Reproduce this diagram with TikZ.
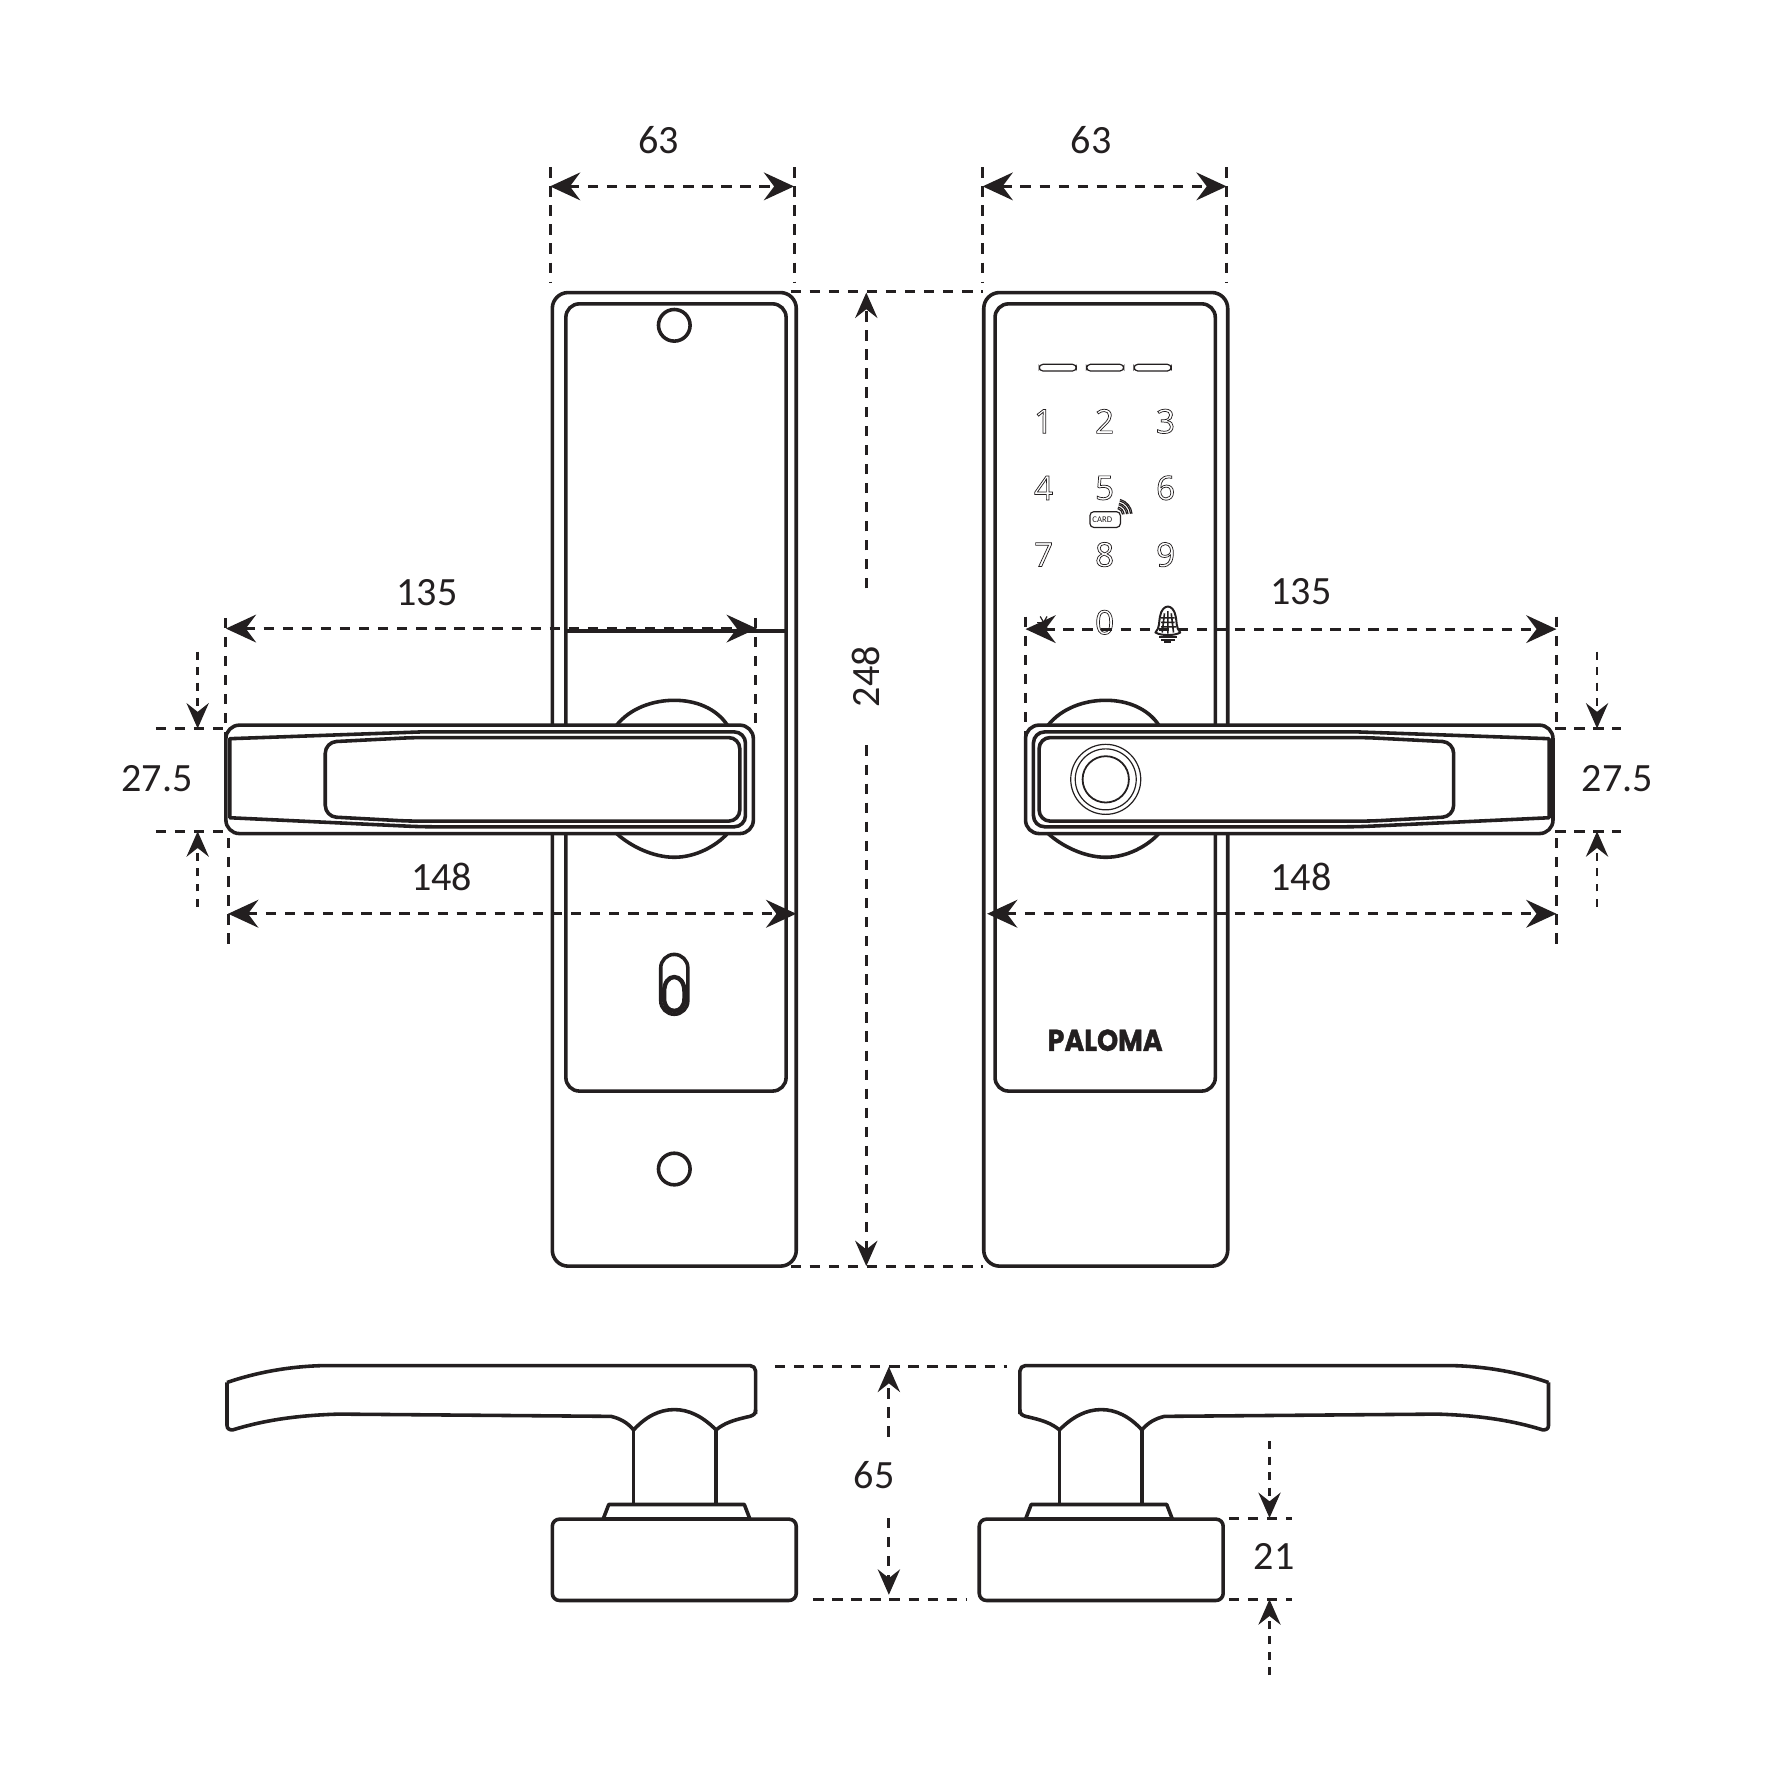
\documentclass[tikz,border=0pt]{standalone}
\usepackage{fontspec}
\setmainfont{Carlito}
\newfontfamily\keyfont{Open Sans}
\newfontfamily\logofont{Poppins}[FakeStretch=0.89,FakeBold=1.2]
\usetikzlibrary{arrows.meta}
\definecolor{ink}{HTML}{231F20}
\tikzset{
  body/.style={draw=ink,line width=0.9pt,line join=round},
  thinbody/.style={draw=ink,line width=0.3pt},
  dimline/.style={draw=ink,line width=0.75pt,dash pattern=on 2.6pt off 2.2pt},
  smalldim/.style={draw=ink,line width=0.6pt,dash pattern=on 2pt off 1.9pt},
  bigtip/.style={{Stealth[length=7.6pt,width=7pt,inset=2.6pt,fill=ink]}-{Stealth[length=7.6pt,width=7pt,inset=2.6pt,fill=ink]}},
  endtip/.style={-{Stealth[length=6.4pt,width=5.6pt,inset=2.2pt,fill=ink]}},
  dimtext/.style={text=ink,font=\fontsize{10.1}{12}\selectfont,inner sep=0pt},
  keytext/.style={text=ink,font=\keyfont\fontsize{8.4}{9}\selectfont,inner sep=0pt},
}
% stroked digits of the keypad
\newcommand{\keydigit}[1]{\special{pdf:code 1 Tr 0.18 w}#1\special{pdf:code 0 Tr}}
% lever seen from the front
\newcommand{\frontlever}{
  \draw[body,fill=white,rounded corners=3.4pt] (200,642) rectangle (667,738);
  \draw[body] (203.5,654) -- (373,648) [rounded corners=2.8pt] -- (660,648) -- (660,732) -- (373,732) [sharp corners] -- (203.5,724) -- cycle;
  \draw[body,rounded corners=2.8pt] (288,657) -- (366,653) -- (655,653) -- (655,727) -- (362,727) -- (288,723) -- cycle;
}
% lever seen from the side
\newcommand{\sidelever}{
  \draw[body,rounded corners=1.4pt] (201,1224) .. controls (230,1214) and (262,1209) .. (297,1209) -- (669,1209) -- (669,1252);
  \draw[body] (669,1248) .. controls (669,1252) and (667,1253) .. (664,1254) .. controls (650,1257) and (641,1260) .. (634,1266) .. controls (622,1254) and (610,1248) .. (597,1248) .. controls (584,1248) and (572,1254) .. (561,1266) .. controls (555,1259) and (549,1256) .. (541,1254) -- (300,1252) .. controls (265,1253) and (235,1257) .. (206,1266) .. controls (203,1266) and (201,1265) .. (201,1262) -- (201,1224);
  \draw[body] (561,1266) -- (561,1332) (634,1266) -- (634,1332);
  \draw[body] (534,1345) -- (539,1332) -- (659,1332) -- (664,1345);
  \draw[body,rounded corners=1.8pt] (489,1345) rectangle (705,1417);
  \draw[draw=ink,line width=1.15pt] (534,1345) -- (664,1345);
}
\begin{document}
\begin{tikzpicture}[x=0.01cm,y=-0.01cm]
\useasboundingbox (0,0) rectangle (1568,1568);

% plates
\draw[body,rounded corners=4pt] (489,259) rectangle (705,1121);
\draw[body,rounded corners=3.4pt] (501,269) rectangle (696,966);
\draw[body,line width=1pt] (501,559) -- (696,559);
\draw[body] (597,288) circle[radius=14];
\draw[body] (597,1035) circle[radius=14];
\draw[body,rounded corners=3.4pt] (585,845) rectangle (609,898);
\draw[body,line width=1.1pt] (588,878) .. controls (588,870) and (592,865) .. (597,865) .. controls (602,865) and (606,870) .. (606,878) -- (606,884) .. controls (606,891) and (602,895) .. (597,895) .. controls (592,895) and (588,891) .. (588,884) -- cycle;
\draw[body,rounded corners=4pt] (871,259) rectangle (1087,1121);
\draw[body,rounded corners=3.4pt] (881,269) rectangle (1076,966);

% hubs
\foreach \s in {0,382}{
  \begin{scope}[xshift=\s*0.01cm]
  \draw[body] (546,642) .. controls (558,627) and (578,620) .. (597,620) .. controls (616,620) and (634,627) .. (644,642);
  \draw[body] (546,738) .. controls (558,749) and (578,759) .. (597,759) .. controls (616,759) and (634,749) .. (644,738);
  \end{scope}
}

% keypad
\foreach \x in {920,962,1004}
  \draw[thinbody,rounded corners=1pt] (\x,322.5) rectangle (\x+33,328.5);
\node[keytext] (k1) at (924,373) {\keydigit{1}};
\node[keytext] (k2) at (978,373) {\keydigit{2}};
\node[keytext] (k3) at (1032,373) {\keydigit{3}};
\node[keytext] (k4) at (924,432) {\keydigit{4}};
\node[keytext] (k5) at (978,432) {\keydigit{5}};
\node[keytext] (k6) at (1032,432) {\keydigit{6}};
\node[keytext] (k7) at (924,491) {\keydigit{7}};
\node[keytext] (k8) at (978,491) {\keydigit{8}};
\node[keytext] (k9) at (1032,491) {\keydigit{9}};
\node[keytext] (k0) at (978,551) {\keydigit{0}};
\foreach \a in {0,60,120}
  \draw[thinbody] (924,551)++(\a:6) -- ++(\a+180:12);
\draw[thinbody,rounded corners=1pt] (965,453) rectangle (992,467);
\node[text=ink,font=\fontsize{2.2}{3}\selectfont,inner sep=0pt] (card) at (976,460) {CARD};
\foreach \r in {6,9.5,13}{
  \draw[thinbody] (988,456)++(-75:\r) arc[start angle=-75,end angle=-5,radius=\r];
  \draw[thinbody] (988,456)++(-75:\r+1.3) arc[start angle=-75,end angle=-5,radius=\r+1.3];
}
% bell
\draw[body,line width=0.5pt] (1023,560) .. controls (1027,556) and (1026,550) .. (1027,546) .. controls (1028,540) and (1031,537) .. (1034,537) .. controls (1037,537) and (1040,540) .. (1041,546) .. controls (1042,550) and (1041,556) .. (1045,560) .. controls (1040,563) and (1028,563) .. (1023,560) -- cycle;
\draw[thinbody,line width=0.4pt] (1031,543) -- (1029,560) (1034,541) -- (1034,561) (1037,543) -- (1039,560) (1028,547) -- (1040,547) (1028,551) -- (1040,551) (1028,555) -- (1041,555);
\draw[thinbody,line width=0.45pt] (1026,564) -- (1042,564) (1028,566.5) -- (1040,566.5) (1031,568.5) -- (1037,568.5);
\node[text=ink,font=\logofont\bfseries\fontsize{7.6}{9}\selectfont,inner sep=0pt] (logo) at (978.5,921) {PALOMA};

% extension lines
\foreach \x in {487,703,870,1086}
  \draw[dimline] (\x,148) -- (\x,250);
\draw[dimline] (700,258) -- (870,258);
\draw[dimline] (700,1121) -- (870,1121);
\draw[dimline] (200,547) -- (200,682);
\draw[dimline] (669,547) -- (669,642);
\draw[dimline] (908,546) -- (908,682);
\draw[dimline] (1378,546) -- (1378,642);
\draw[dimline] (202,742) -- (202,837);
\draw[dimline] (1378,742) -- (1378,837);
\draw[dimline] (138,645) -- (200,645);
\draw[dimline] (138,736) -- (200,736);
\draw[dimline] (1377,645) -- (1435,645);
\draw[dimline] (1377,736) -- (1435,736);
\draw[dimline] (686,1210) -- (892,1210);
\draw[dimline] (720,1416) -- (856,1416);
\draw[dimline] (1088,1344) -- (1144,1344);
\draw[dimline] (1088,1416) -- (1144,1416);

% levers
\frontlever
\begin{scope}[shift={(1575,0)},xscale=-1]
\frontlever
\end{scope}
\draw[thinbody] (979,690) circle[radius=31];
\draw[thinbody] (979,690) circle[radius=27];
\draw[thinbody,line width=0.45pt] (979,690) circle[radius=20.5];

\sidelever
\begin{scope}[shift={(1572,0)},xscale=-1]
\sidelever
\end{scope}

% dimensions
\coordinate (wa) at (487,165);
\coordinate (wb) at (703,165);
\coordinate (wc) at (870,165);
\coordinate (wd) at (1086,165);
\draw[dimline,bigtip] (wa) -- (wb);
\draw[dimline,bigtip] (wc) -- (wd);
\node[dimtext] (wtextl) at (583,124) {63};
\node[dimtext] (wtextr) at (966,124) {63};

\coordinate (ha) at (767,259);
\coordinate (hb) at (767,1121);
\coordinate (hgapa) at (767,521);
\coordinate (hgapb) at (767,660);
\draw[dimline,endtip] (hgapa) -- (ha);
\draw[dimline,endtip] (hgapb) -- (hb);
\node[dimtext,rotate=90] (htext) at (767,599) {248};

\coordinate (la) at (200,556.5);
\coordinate (lb) at (670,556.5);
\coordinate (ra) at (908,557);
\coordinate (rb) at (1378,557);
\draw[dimline,bigtip] (la) -- (lb);
\draw[dimline,bigtip] (ra) -- (rb);
\node[dimtext] (ltextl) at (378,525) {135};
\node[dimtext] (ltextr) at (1152,524) {135};

\coordinate (sa) at (202,809);
\coordinate (sb) at (705,809);
\coordinate (ta) at (874,809);
\coordinate (tb) at (1378,809);
\draw[dimline,bigtip] (sa) -- (sb);
\draw[dimline,bigtip] (ta) -- (tb);
\node[dimtext] (stextl) at (391,776) {148};
\node[dimtext] (stextr) at (1152,776) {148};

\coordinate (qa) at (175,577);
\coordinate (qb) at (175,645);
\coordinate (qc) at (175,803);
\coordinate (qd) at (175,736);
\coordinate (pa) at (1414,577);
\coordinate (pb) at (1414,645);
\coordinate (pc) at (1414,803);
\coordinate (pd) at (1414,736);
\draw[smalldim,endtip] (qa) -- (qb);
\draw[smalldim,endtip] (qc) -- (qd);
\draw[smalldim,endtip] (pa) -- (pb);
\draw[smalldim,endtip] (pc) -- (pd);
\node[dimtext] (qtext) at (139,689) {27.5};
\node[dimtext] (ptext) at (1432,689) {27.5};

\coordinate (da) at (787,1210);
\coordinate (db) at (787,1272);
\coordinate (dc) at (787,1344);
\coordinate (dd) at (787,1412);
\draw[dimline,endtip] (db) -- (da);
\draw[dimline,endtip] (dc) -- (dd);
\node[dimtext] (dtext) at (774,1306) {65};

\coordinate (ea) at (1124,1276);
\coordinate (eb) at (1124,1344);
\coordinate (ec) at (1124,1483);
\coordinate (ed) at (1124,1416);
\draw[smalldim,endtip] (ea) -- (eb);
\draw[smalldim,endtip] (ec) -- (ed);
\node[dimtext] (etext) at (1128,1378) {21};
\end{tikzpicture}
\end{document}
